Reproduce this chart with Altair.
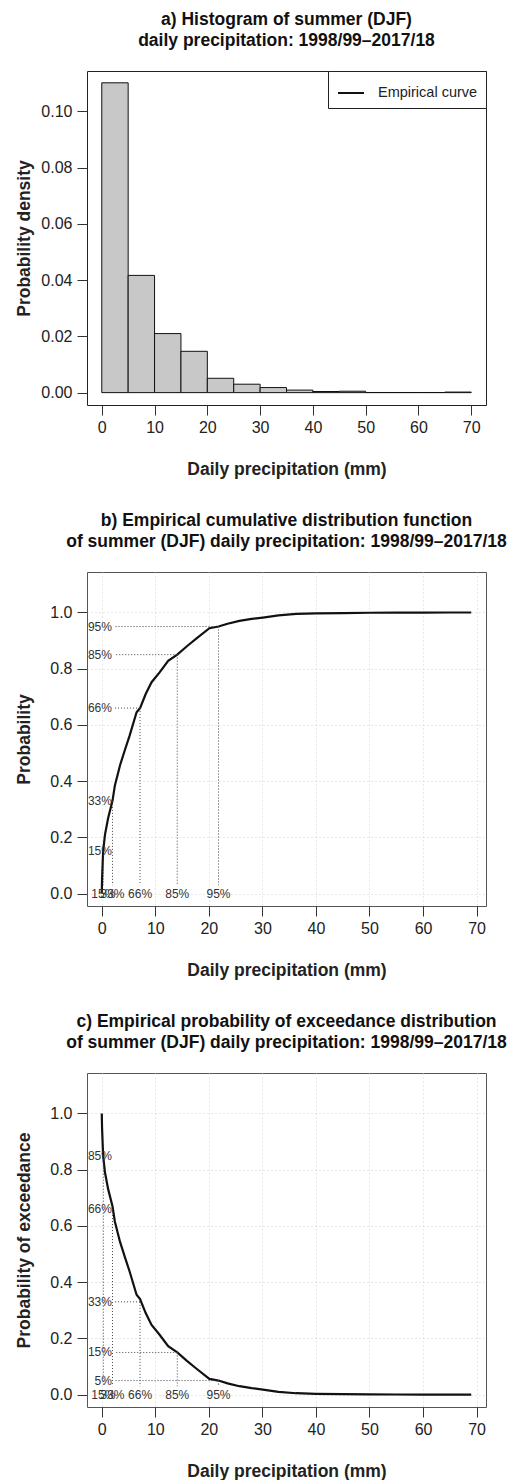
import altair as alt
import pandas as pd

FONT = "Liberation Sans"

# ---------------- data ----------------
# a) histogram (5 mm bins) – probability density
hist_left = [0, 5, 10, 15, 20, 25, 30, 35, 40, 45, 50, 55, 60, 65]
hist_right = [5, 10, 15, 20, 25, 30, 35, 40, 45, 50, 55, 60, 65, 70]
hist_density = [0.1102, 0.0417, 0.0210, 0.0147, 0.0051, 0.0030, 0.0018,
                0.0009, 0.0004, 0.0005, 0.00005, 0.00005, 0.00005, 0.0002]

# b) empirical CDF
ecdf_x = [0, 0.05, 0.25, 0.6, 1.2, 2.0, 2.45, 3.4, 4.3, 5.2, 6.5, 7.15, 8.2,
          9.3, 10.8, 12.4, 14.1, 15.9, 17.7, 20.1, 21.8, 23.5, 25.7, 28.0,
          30.1, 33.0, 36.3, 40, 45, 50, 55, 60, 65, 69]
ecdf_y = [0.0, 0.05, 0.15, 0.21, 0.27, 0.33, 0.385, 0.456, 0.51, 0.562, 0.645,
          0.66, 0.71, 0.752, 0.787, 0.828, 0.85, 0.88, 0.908, 0.944, 0.95,
          0.96, 0.97, 0.977, 0.982, 0.99, 0.995, 0.997, 0.998, 0.999, 0.9995,
          0.9998, 0.9999, 1.0]

# percentiles and their quantiles (mm)
pct_p = [0.15, 0.33, 0.66, 0.85, 0.95]
pct_q = [0.3, 2.0, 7.15, 14.1, 21.8]
pct_label = ["15%", "33%", "66%", "85%", "95%"]
# exceedance labels (panel c)
exc_p = [0.85, 0.66, 0.33, 0.15, 0.05]
exc_label = ["85%", "66%", "33%", "15%", "5%"]

x_ticks = [0, 10, 20, 30, 40, 50, 60, 70]
ya_ticks = [0, 0.02, 0.04, 0.06, 0.08, 0.10]
yb_ticks = [0, 0.2, 0.4, 0.6, 0.8, 1.0]

hist_df = pd.DataFrame({"left": hist_left, "right": hist_right, "density": hist_density})
ecdf_df = pd.DataFrame({"x": ecdf_x, "p": ecdf_y})
pct_df = pd.DataFrame({"p": pct_p, "q": pct_q, "label": pct_label})
exc_df = pd.DataFrame({"p": exc_p, "q": pct_q, "label": exc_label})
legend_df = pd.DataFrame({"x": [0], "y": [0], "series": ["Empirical curve"]})

W, H = 399, 334
TXT = "#222222"
DOT = "#444444"


def x_axis(grid):
    return alt.Axis(values=x_ticks, tickSize=10, tickColor="#333333", domain=False,
                    labelFontSize=16, labelFont=FONT, labelColor=TXT, labelPadding=4,
                    labelFlush=False,
                    grid=grid, gridColor="#d0d0d0", gridDash=[1, 3],
                    title="Daily precipitation (mm)", titleFont=FONT, titleFontSize=17.5,
                    titleFontWeight="bold", titleColor=TXT, titleX=W / 2, titleY=64,
                    titleBaseline="middle", titleAlign="center")


def y_axis(values, fmt, title, grid):
    return alt.Axis(values=values, format=fmt, tickSize=10, tickColor="#333333",
                    domain=False, labelFontSize=16, labelFont=FONT, labelColor=TXT,
                    labelPadding=5, labelFlush=False,
                    grid=grid, gridColor="#d0d0d0", gridDash=[1, 3],
                    title=title, titleFont=FONT, titleFontSize=17.5, titleFontWeight="bold",
                    titleColor=TXT, titleX=-63, titleY=H / 2, titleBaseline="middle",
                    titleAlign="center", titleAngle=270)


def make_title(lines):
    return alt.TitleParams(text=lines, font=FONT, fontSize=17.5, fontWeight="bold",
                           color="#111111", anchor="middle", frame="group",
                           lineHeight=21, offset=22)


# ---------------- panel a ----------------
xa = alt.Scale(domain=[-2.8, 72.8], nice=False, zero=False)
ya = alt.Scale(domain=[-0.0044, 0.1144], nice=False, zero=False)
XA = x_axis(False)
YA = y_axis(ya_ticks, ".2f", "Probability density", False)

bars = alt.Chart(hist_df).mark_rect(fill="#c8c8c8", stroke="#111111", strokeWidth=1).encode(
    x=alt.X("left:Q", scale=xa, axis=XA),
    x2="right:Q",
    y=alt.Y("density:Q", scale=ya, axis=YA),
    y2=alt.datum(0),
)
legend_line = alt.Chart(legend_df).mark_line(strokeWidth=2).encode(
    x=alt.X("x:Q", scale=xa, axis=XA),
    y=alt.Y("y:Q", scale=ya, axis=YA),
    color=alt.Color("series:N",
                    scale=alt.Scale(domain=["Empirical curve"], range=["#111111"]),
                    legend=alt.Legend(title=None, orient="top-right", offset=0,
                                      strokeColor="#222222", fillColor="white",
                                      padding=8, symbolType="stroke", symbolStrokeWidth=2,
                                      symbolSize=676, symbolOffset=1, labelOffset=13,
                                      labelFont=FONT, labelFontSize=14.5, labelColor=TXT)),
)
panel_a = alt.layer(bars, legend_line).properties(
    width=W, height=H,
    view=alt.ViewBackground(stroke="#222222", strokeWidth=1),
    title=make_title(["a) Histogram of summer (DJF)",
                      "daily precipitation: 1998/99\u20132017/18"]))

# ---------------- panel b / c ----------------
xb = alt.Scale(domain=[-2.76, 71.76], nice=False, zero=False)
yb = alt.Scale(domain=[-0.044, 1.144], nice=False, zero=False)


def cdf_panel(exceed, ytitle, title_lines, labels_df):
    XB = x_axis(True)
    YB = y_axis(yb_ticks, ".1f", ytitle, True)
    base = alt.Chart(ecdf_df)
    if exceed:
        base = base.transform_calculate(val="1 - datum.p")
    else:
        base = base.transform_calculate(val="datum.p")
    curve = base.mark_line(color="#111111", strokeWidth=2.2).encode(
        x=alt.X("x:Q", scale=xb, axis=XB),
        y=alt.Y("val:Q", scale=yb, axis=YB),
        order="x:Q",
    )
    hrule = alt.Chart(labels_df).transform_filter("datum.q > 2.4").mark_rule(
        color=DOT, strokeDash=[1, 2], strokeWidth=1).encode(
        x=alt.X("q:Q", scale=xb, axis=XB),
        x2=alt.datum(2.4),
        y=alt.Y("p:Q", scale=yb, axis=YB),
    )
    vrule = alt.Chart(labels_df).mark_rule(
        color=DOT, strokeDash=[1, 2], strokeWidth=1).encode(
        x=alt.X("q:Q", scale=xb, axis=XB),
        y=alt.Y("p:Q", scale=yb, axis=YB),
        y2=alt.datum(0.03),
    )
    left_txt = alt.Chart(labels_df).mark_text(
        align="right", baseline="middle", font=FONT, fontSize=12, color="#333333").encode(
        x=alt.X(datum=1.9, scale=xb, axis=XB),
        y=alt.Y("p:Q", scale=yb, axis=YB),
        text="label:N",
    )
    bottom_txt = alt.Chart(pct_df).mark_text(
        align="center", baseline="middle", font=FONT, fontSize=12, color="#333333").encode(
        x=alt.X("q:Q", scale=xb, axis=XB),
        y=alt.Y(datum=0, scale=yb, axis=YB),
        text="label:N",
    )
    return alt.layer(curve, hrule, vrule, left_txt, bottom_txt).properties(
        width=W, height=H,
        view=alt.ViewBackground(stroke="#555555", strokeWidth=1),
        title=make_title(title_lines))


panel_b = cdf_panel(False, "Probability",
                    ["b) Empirical cumulative distribution function",
                     "of summer (DJF) daily precipitation: 1998/99\u20132017/18"], pct_df)
panel_c = cdf_panel(True, "Probability of exceedance",
                    ["c) Empirical probability of exceedance distribution",
                     "of summer (DJF) daily precipitation: 1998/99\u20132017/18"], exc_df)

chart = alt.vconcat(panel_a, panel_b, panel_c, spacing=33).properties(
    padding={"left": 14, "top": 10, "right": 0, "bottom": 0}
).configure_view(stroke="#333333", strokeWidth=1).configure(background="white")

chart.save("out.html", embed_options={"renderer": "svg", "actions": False})
